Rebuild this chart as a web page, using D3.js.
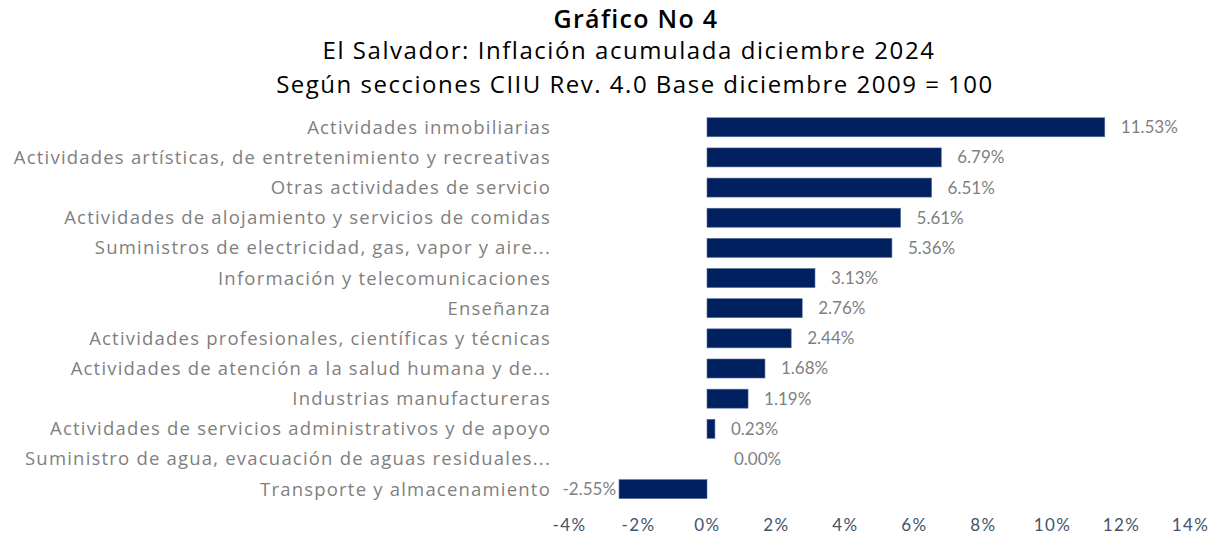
<!DOCTYPE html>
<html>
<head>
<meta charset="utf-8">
<script src="https://cdn.jsdelivr.net/npm/d3@7"></script>
<style>
  html, body { margin: 0; padding: 0; background: #fff; }
  svg { display: block; font-family: "Open Sans", Lato, sans-serif; }
</style>
</head>
<body>
<svg id="chart" width="1211" height="535"></svg>
<script>
// Categories (top to bottom) and accumulated inflation (%)
const categories = [
  'Actividades inmobiliarias',
  'Actividades artísticas, de entretenimiento y recreativas',
  'Otras actividades de servicio',
  'Actividades de alojamiento y servicios de comidas',
  'Suministros de electricidad, gas, vapor y aire...',
  'Información y telecomunicaciones',
  'Enseñanza',
  'Actividades profesionales, científicas y técnicas',
  'Actividades de atención a la salud humana y de...',
  'Industrias manufactureras',
  'Actividades de servicios administrativos y de apoyo',
  'Suministro de agua, evacuación de aguas residuales...',
  'Transporte y almacenamiento'
];
const values = [11.53, 6.79, 6.51, 5.61, 5.36, 3.13, 2.76, 2.44, 1.68, 1.19, 0.23, 0.00, -2.55];
const xTicks = [-4, -2, 0, 2, 4, 6, 8, 10, 12, 14];
const titleLines = [
  'Gráfico No 4',
  'El Salvador: Inflación acumulada diciembre 2024',
  'Según secciones CIIU Rev. 4.0 Base diciembre 2009 = 100'
];

const svg = d3.select('#chart');
const data = categories.map((c, i) => ({ cat: c, val: values[i] }));

const x = d3.scaleLinear().domain([-4, 14]).range([569, 1190]);
const y = d3.scaleBand()
  .domain(categories)
  .range([112.2, 504.2])
  .paddingInner(0.37)
  .paddingOuter(0.185);

/* ---------- Title ---------- */
const title = svg.append('g').attr('text-anchor', 'middle').attr('fill', '#000');
title.append('text')
  .attr('x', 636).attr('y', 28)
  .attr('font-size', 25).attr('font-weight', 600)
  .attr('letter-spacing', 1.3)
  .text(titleLines[0]);
title.append('text')
  .attr('x', 629).attr('y', 59)
  .attr('font-size', 24)
  .attr('letter-spacing', 1.55)
  .text(titleLines[1]);
title.append('text')
  .attr('x', 635).attr('y', 93)
  .attr('font-size', 24)
  .attr('letter-spacing', 1.5)
  .text(titleLines[2]);

/* ---------- Bars ---------- */
svg.append('g')
  .selectAll('rect')
  .data(data)
  .join('rect')
  .attr('x', d => x(Math.min(0, d.val)))
  .attr('y', d => y(d.cat))
  .attr('width', d => Math.abs(x(d.val) - x(0)))
  .attr('height', y.bandwidth())
  .attr('fill', '#002060')
  .attr('stroke', '#5a6e9c')
  .attr('stroke-width', 0.6);

/* ---------- Category labels ---------- */
svg.append('g')
  .selectAll('text')
  .data(data)
  .join('text')
  .attr('x', 551)
  .attr('y', d => y(d.cat) + y.bandwidth() / 2)
  .attr('dy', '0.35em')
  .attr('text-anchor', 'end')
  .attr('font-size', 18.5)
  .attr('letter-spacing', 1.2)
  .attr('fill', '#7f7f7f')
  .text(d => d.cat);

/* ---------- Value labels ---------- */
svg.append('g')
  .selectAll('text')
  .data(data)
  .join('text')
  .attr('x', d => d.val < 0 ? x(d.val) - 3 : x(d.val) + (d.val === 0 ? 27 : 16))
  .attr('y', d => y(d.cat) + y.bandwidth() / 2)
  .attr('dy', '0.35em')
  .attr('text-anchor', d => d.val < 0 ? 'end' : 'start')
  .attr('font-family', 'Lato, sans-serif')
  .attr('font-size', 17)
  .attr('fill', '#7f7f7f')
  .text(d => d.val.toFixed(2) + '%');

/* ---------- X axis ---------- */
const axis = svg.append('g')
  .attr('transform', 'translate(0,525)')
  .call(d3.axisBottom(x).tickValues(xTicks).tickFormat(d => d + '%').tickSize(0).tickPadding(0));
axis.select('.domain').remove();
axis.selectAll('text')
  .attr('dy', '0.35em')
  .attr('font-family', 'Lato, sans-serif')
  .attr('font-size', 17)
  .attr('letter-spacing', 1.4)
  .attr('fill', '#44546a');
</script>
</body>
</html>
